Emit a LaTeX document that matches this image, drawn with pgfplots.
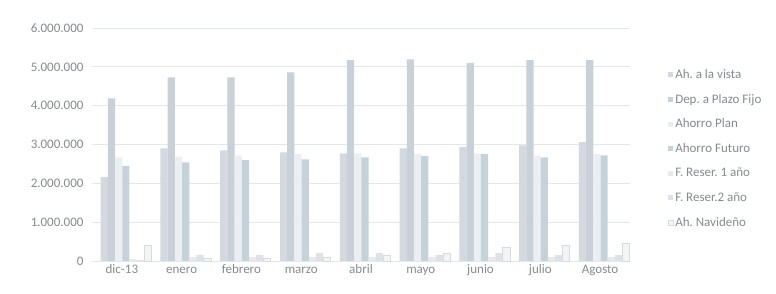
\documentclass[border=0pt]{standalone}
\usepackage{pgfplots}
\pgfplotsset{compat=1.18}
\usepackage{fontspec}
\setmainfont{Carlito}
\frenchspacing
\definecolor{txt}{HTML}{858A8E}
\definecolor{grd}{HTML}{E4E7EA}
\definecolor{cA}{HTML}{D3D9DF}
\definecolor{cB}{HTML}{C8D0D8}
\definecolor{cC}{HTML}{ECEFF2}
\definecolor{cD}{HTML}{C4D2D9}
\definecolor{cE}{HTML}{E7E9ED}
\definecolor{cF}{HTML}{DCE2E7}
\definecolor{cG}{HTML}{F3F4F6}
\begin{document}
\begin{tikzpicture}
\path[use as bounding box] (0,0) rectangle (776pt,294pt);
\begin{axis}[
  at={(92pt,33pt)}, anchor=south west,
  scale only axis, width=538pt, height=233pt,
  ybar=0pt, bar width=7.2pt,
  every axis plot/.append style={xshift=4pt},
  xmin=-0.5, xmax=8.5, ymin=0, ymax=6000000,
  xtick=data, xticklabels={dic-13,enero,febrero,marzo,abril,mayo,junio,julio,Agosto},
  ytick={0,1000000,2000000,3000000,4000000,5000000,6000000},
  scaled y ticks=false,
  yticklabel style={/pgf/number format/fixed, /pgf/number format/precision=0,
    /pgf/number format/1000 sep={.}, /pgf/number format/assume math mode=true, xshift=-5pt},
  tick label style={font=\fontsize{13}{15}\selectfont, text=txt},
  major tick length=0pt,
  ymajorgrids, grid style={grd, line width=0.8pt},
  axis x line*=bottom, axis y line*=left,
  x axis line style={grd, line width=0.8pt, -},
  y axis line style={draw=none},
  xticklabel style={yshift=-1pt, text height=1.6ex, text depth=0.3ex},
  legend style={at={(1.07,0.832)}, anchor=north west, draw=none, fill=none,
    font=\fontsize{13}{15}\selectfont, text=txt, row sep=10.2pt, inner sep=0pt,
    cells={anchor=west}},
  legend image code/.code={\fill[#1] (0pt,-2.5pt) rectangle (5pt,2.5pt);},
  clip=false,
]
\addplot[fill=cA, draw=none] coordinates {(0,2160000) (1,2900000) (2,2850000) (3,2800000) (4,2770000) (5,2900000) (6,2930000) (7,2980000) (8,3060000)};
\addplot[fill=cB, draw=none] coordinates {(0,4190000) (1,4730000) (2,4730000) (3,4860000) (4,5170000) (5,5190000) (6,5100000) (7,5170000) (8,5170000)};
\addplot[fill=cC, draw=none] coordinates {(0,2670000) (1,2680000) (2,2720000) (3,2750000) (4,2770000) (5,2750000) (6,2770000) (7,2720000) (8,2750000)};
\addplot[fill=cD, draw=none] coordinates {(0,2440000) (1,2540000) (2,2600000) (3,2620000) (4,2670000) (5,2700000) (6,2750000) (7,2670000) (8,2720000)};
\addplot[fill=cE, draw=none] coordinates {(0,50000) (1,100000) (2,100000) (3,100000) (4,100000) (5,100000) (6,100000) (7,100000) (8,100000)};
\addplot[fill=cF, draw=none] coordinates {(0,20000) (1,150000) (2,150000) (3,200000) (4,200000) (5,150000) (6,200000) (7,150000) (8,150000)};
\addplot[fill=cG, draw={rgb,255:red,215;green,219;blue,223}, line width=0.4pt] coordinates {(0,410000) (1,60000) (2,60000) (3,100000) (4,150000) (5,200000) (6,350000) (7,400000) (8,450000)};
\legend{Ah. a la vista, Dep. a Plazo Fijo, Ahorro Plan, Ahorro Futuro, F. Reser. 1 año, F. Reser.2 año, Ah. Navideño}
\end{axis}
\end{tikzpicture}
\end{document}
